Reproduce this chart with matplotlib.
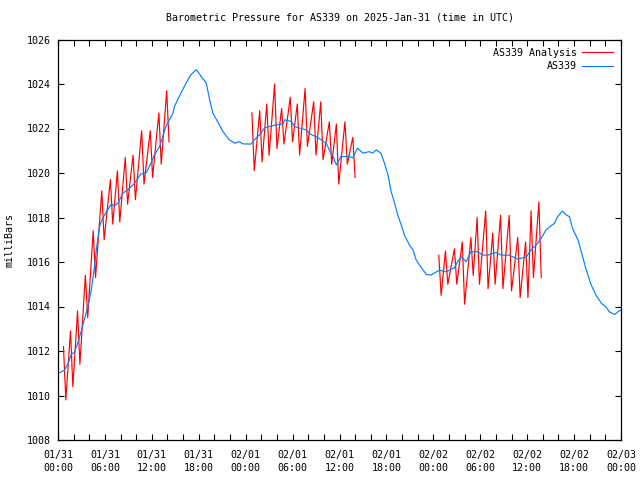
import numpy as np
import matplotlib
matplotlib.use("Agg")
import matplotlib.pyplot as plt

# hours since 01/31 00:00 UTC, pressure in mb (AS339 observations)
obs_hours = [0.0, 0.8, 1.25, 1.7, 2.1, 2.5, 3.0, 3.4, 3.8, 4.25, 4.67, 4.9, 5.3, 5.7, 6.2,
             6.8, 7.2, 7.65, 8.3, 8.9, 9.8, 10.6, 11.3, 11.9, 12.3, 13.0, 13.8, 14.7, 14.9,
             15.5, 16.4, 17.0, 17.7, 18.3, 18.95, 19.4, 19.8, 20.4, 21.1, 21.9, 22.6, 23.2,
             23.6, 24.7, 25.1, 25.8, 26.4, 27.05, 27.9, 28.75, 29.0, 29.8, 30.25, 30.9,
             31.7, 32.4, 33.0, 33.65, 34.3, 34.7, 35.1, 35.6, 36.2, 37.3, 37.7, 38.3, 39.0,
             39.8, 40.25, 40.7, 41.3, 41.75, 42.2, 42.6, 43.0, 43.45, 43.9, 44.3, 44.95,
             45.4, 45.8, 46.4, 47.1, 47.7, 48.4, 48.8, 49.6, 50.7, 51.1, 51.6, 52.2, 52.8,
             53.7, 54.3, 55.0, 56.0, 56.7, 57.7, 58.8, 59.9, 60.5, 61.15, 61.8, 62.4, 63.05,
             63.5, 63.9, 64.5, 65.0, 65.4, 65.8, 66.5, 67.1, 67.5, 68.2, 68.8, 69.5, 70.1,
             70.5, 71.2, 71.7, 72.0]
obs_mb = [1011.0, 1011.13, 1011.4, 1011.85, 1011.95, 1012.33, 1012.93, 1013.46, 1013.98,
          1014.73, 1015.78, 1016.54, 1017.58, 1017.96, 1018.26, 1018.6, 1018.52, 1018.64,
          1019.09, 1019.24, 1019.54, 1019.96, 1020.02, 1020.44, 1020.8, 1021.19, 1022.09,
          1022.69, 1022.99, 1023.44, 1024.05, 1024.42, 1024.64, 1024.34, 1024.05, 1023.29,
          1022.69, 1022.32, 1021.86, 1021.49, 1021.34, 1021.41, 1021.31, 1021.3, 1021.49,
          1021.72, 1022.02, 1022.09, 1022.17, 1022.2, 1022.39, 1022.32, 1022.09, 1022.02,
          1021.94, 1021.72, 1021.64, 1021.49, 1021.34, 1021.04, 1020.81, 1020.36, 1020.74,
          1020.74, 1020.67, 1021.12, 1020.89, 1020.96, 1020.89, 1021.04, 1020.89, 1020.44,
          1019.91, 1019.16, 1018.71, 1018.11, 1017.66, 1017.21, 1016.76, 1016.54, 1016.09,
          1015.78, 1015.44, 1015.41, 1015.56, 1015.63, 1015.56, 1015.74, 1016.01, 1016.23,
          1016.01, 1016.46, 1016.46, 1016.31, 1016.31, 1016.43, 1016.31, 1016.31, 1016.13,
          1016.23, 1016.54, 1016.76, 1017.06, 1017.44, 1017.63, 1017.74, 1018.04, 1018.29,
          1018.11, 1018.04, 1017.51, 1016.99, 1016.23, 1015.71, 1014.96, 1014.51, 1014.14,
          1013.98, 1013.76, 1013.64, 1013.79, 1013.85]

# analysis: three runs, each an hourly swing between a high and a low
ana1_hours = [0.7, 1.6, 2.5, 3.5, 4.5, 5.6, 6.7, 7.6, 8.6, 9.6, 10.7, 11.8, 12.9, 13.9]
ana1_high = [1012.2, 1012.9, 1013.8, 1015.4, 1017.4, 1019.2, 1019.7, 1020.1, 1020.7, 1020.8,
             1021.9, 1021.9, 1022.7, 1023.7]
ana1_low = [1009.8, 1010.4, 1011.4, 1013.5, 1015.3, 1017.0, 1017.7, 1017.8, 1018.6, 1018.8,
            1019.5, 1019.8, 1020.4, 1021.4]

ana2_hours = [24.8, 25.8, 26.7, 27.7, 28.6, 29.7, 30.6, 31.6, 32.7, 33.6, 34.7, 35.6, 36.7, 37.7]
ana2_high = [1022.7, 1022.8, 1023.1, 1024.0, 1022.9, 1023.4, 1023.1, 1023.8, 1023.2, 1023.2,
             1022.3, 1022.2, 1022.3, 1021.6]
ana2_low = [1020.1, 1020.5, 1020.8, 1021.1, 1021.3, 1021.4, 1020.8, 1021.2, 1020.8, 1020.6,
            1020.4, 1019.5, 1020.4, 1019.8]

ana3_hours = [48.7, 49.55, 50.7, 51.7, 52.8, 53.6, 54.7, 55.6, 56.6, 57.7, 58.8, 59.8, 60.5, 61.5]
ana3_high = [1016.3, 1016.5, 1016.6, 1016.9, 1017.1, 1018.0, 1018.3, 1017.3, 1018.1, 1018.1,
             1017.1, 1016.9, 1018.3, 1018.7]
ana3_low = [1014.5, 1015.0, 1015.0, 1014.1, 1015.4, 1015.0, 1014.8, 1015.0, 1014.8, 1014.7,
            1014.4, 1014.4, 1015.3, 1015.3]

x_tick_hours = [0, 6, 12, 18, 24, 30, 36, 42, 48, 54, 60, 66, 72]
x_tick_labels = ["01/31\n00:00", "01/31\n06:00", "01/31\n12:00", "01/31\n18:00",
                 "02/01\n00:00", "02/01\n06:00", "02/01\n12:00", "02/01\n18:00",
                 "02/02\n00:00", "02/02\n06:00", "02/02\n12:00", "02/02\n18:00",
                 "02/03\n00:00"]


def zigzag(hours, high, low):
    t, v = [], []
    for h, hi, lo in zip(hours, high, low):
        t += [h, h + 0.3]
        v += [hi, lo]
    return t, v


plt.rcParams['font.family'] = ['DejaVu Sans Mono']
plt.rcParams['font.size'] = 7.2

fig = plt.figure(figsize=(6.4, 4.8), dpi=100)
ax = fig.add_axes([58 / 640, 1 - 440 / 480, (621 - 58) / 640, (440 - 39.5) / 480])

red = '#ff0000'
blue = '#0080ff'
for i, (hh, hi, lo) in enumerate([(ana1_hours, ana1_high, ana1_low),
                                   (ana2_hours, ana2_high, ana2_low),
                                   (ana3_hours, ana3_high, ana3_low)]):
    t, v = zigzag(hh, hi, lo)
    ax.plot(t, v, color=red, lw=0.85, label='AS339 Analysis' if i == 0 else None)
ax.plot(obs_hours, obs_mb, color=blue, lw=0.85, label='AS339')

ax.set_xlim(0, 72)
ax.set_ylim(1008, 1026)
ax.set_xticks(np.arange(0, 73, 2))
ax.set_xticklabels([x_tick_labels[x_tick_hours.index(h)] if h in x_tick_hours else ''
                    for h in range(0, 73, 2)], linespacing=1.35)
ax.set_yticks(np.arange(1008, 1027, 2))
ax.tick_params(direction='in', top=True, right=True, length=4, width=0.8)
ax.tick_params(axis='x', pad=7)
ax.tick_params(axis='y', pad=5)
for s in ax.spines.values():
    s.set_linewidth(0.9)

ax.set_ylabel('milliBars', labelpad=9)
ax.set_title('Barometric Pressure for AS339 on 2025-Jan-31 (time in UTC)', fontsize=7.2, pad=14)

ax.legend(loc='upper right', frameon=False, markerfirst=False, handlelength=3.1,
          handletextpad=0.5, labelspacing=0.35, borderaxespad=0.4)

fig.savefig('out.png', dpi=100)
